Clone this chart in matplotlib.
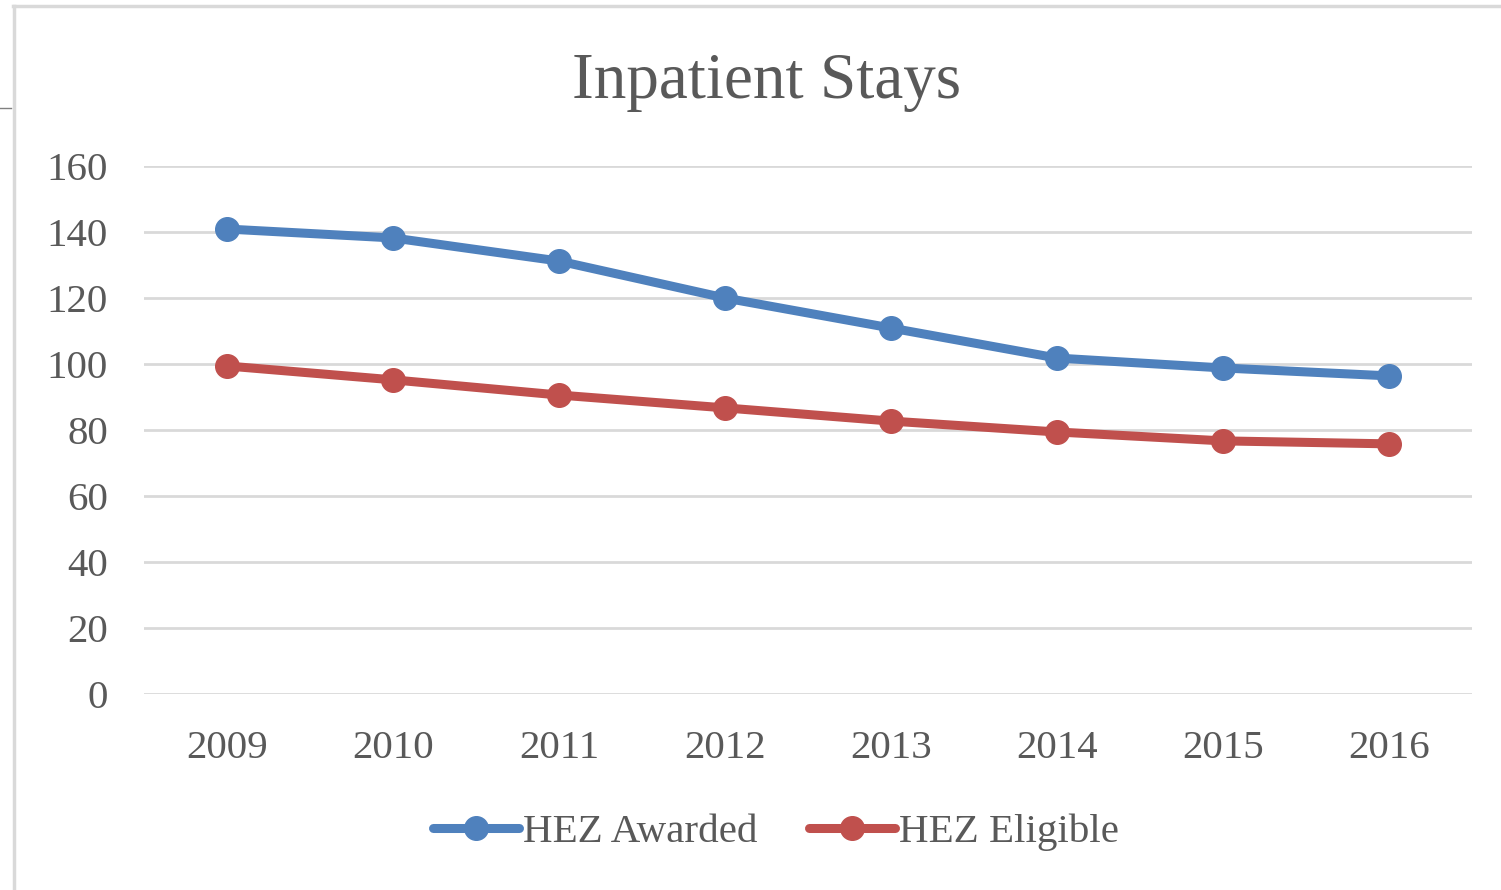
import matplotlib.pyplot as plt
from matplotlib.lines import Line2D

years = ['2009', '2010', '2011', '2012', '2013', '2014', '2015', '2016']
hez_awarded = [140.9, 138.2, 131.2, 120.0, 110.9, 101.8, 98.8, 96.4]
hez_eligible = [99.4, 95.2, 90.6, 86.7, 82.7, 79.4, 76.7, 75.8]

W, H = 1501, 890
txt = '#595959'
plt.rcParams['font.family'] = ['Liberation Serif', 'DejaVu Serif']

fig = plt.figure(figsize=(W / 100, H / 100), dpi=100)
ax = fig.add_axes([144 / W, 1 - 694 / H, (1472 - 144) / W, (694 - 166) / H])

x = range(len(years))
ax.plot(x, hez_awarded, color='#4F81BD', lw=6.5, marker='o', ms=17,
        label='HEZ Awarded', solid_capstyle='round', zorder=3)
ax.plot(x, hez_eligible, color='#C0504D', lw=6.5, marker='o', ms=17,
        label='HEZ Eligible', solid_capstyle='round', zorder=3)

ax.set_xlim(-0.5, 7.5)
ax.set_ylim(0, 160)
ax.set_yticks(range(0, 161, 20))
ax.set_xticks(list(x))
ax.set_xticklabels(years)
ax.grid(axis='y', color='#d9d9d9', lw=2)
ax.set_axisbelow(True)
for s in ax.spines.values():
    s.set_visible(False)
ax.tick_params(axis='both', length=0, labelsize=29.5, colors=txt)
ax.tick_params(axis='x', pad=26)
ax.tick_params(axis='y', pad=26)

fig.text(767 / W, 1 - 82 / H, 'Inpatient Stays', ha='center', va='center',
         fontsize=47, color=txt)

leg = fig.legend(loc='center', bbox_to_anchor=(776 / W, 1 - 832 / H), ncol=2,
                 frameon=False, fontsize=29.5, handlelength=2.1,
                 handletextpad=0.1, columnspacing=1.25)
for t in leg.get_texts():
    t.set_color(txt)

# chart frame
fig.add_artist(Line2D([13.5 / W, 13.5 / W], [0, 1 - 6 / H], color='#d9d9d9', lw=2.5))
fig.add_artist(Line2D([13 / W, 1], [1 - 6 / H, 1 - 6 / H], color='#d9d9d9', lw=2.5))
fig.add_artist(Line2D([0, 11 / W], [1 - 108 / H, 1 - 108 / H], color='#808080', lw=1))

fig.savefig('out.png', dpi=100)
